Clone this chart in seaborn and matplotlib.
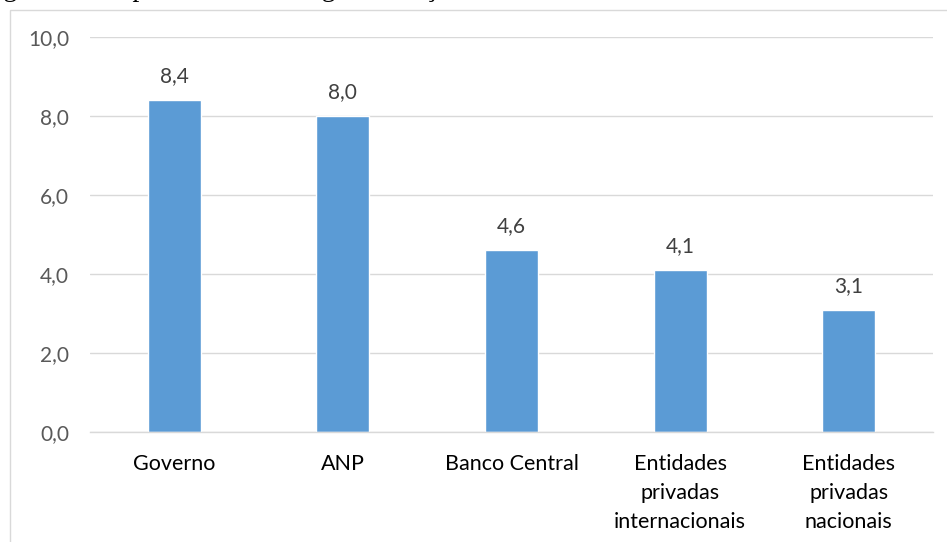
import matplotlib
matplotlib.use("Agg")
import matplotlib.pyplot as plt
from matplotlib.patches import Rectangle
import seaborn as sns
import pandas as pd

# Chart data
categories = ["Governo", "ANP", "Banco Central",
              "Entidades\nprivadas\ninternacionais", "Entidades\nprivadas\nnacionais"]
values = [8.4, 8.0, 4.6, 4.1, 3.1]
y_ticks = [0.0, 2.0, 4.0, 6.0, 8.0, 10.0]
title_text = "Figura 4 – Importância dada à governança do modelo nacionalizada de do"

df = pd.DataFrame({"categoria": categories, "valor": values})

sns.set_theme(style="white")
plt.rcParams["font.family"] = ["Lato", "DejaVu Sans"]

W, H = 947, 542
fig = plt.figure(figsize=(W / 100, H / 100), dpi=100)
ax = fig.add_axes([90 / W, 1 - 432 / H, (933 - 90) / W, (432 - 37) / H])

sns.barplot(data=df, x="categoria", y="valor", color="#5B9BD5",
            saturation=1, width=0.315, ax=ax, zorder=3)

ax.set_ylim(0, 10)
ax.set_xlim(-0.5, len(categories) - 0.5)
ax.set_yticks(y_ticks)
ax.set_yticklabels([f"{t:.1f}".replace(".", ",") for t in y_ticks],
                   color="#595959", fontsize=15)
ax.set_xticks(range(len(categories)))
ax.set_xticklabels(categories, color="#000000", fontsize=15.5, linespacing=1.55,
                   va="top")
ax.tick_params(axis="y", length=0, pad=15)
ax.tick_params(axis="x", length=0, pad=16)
ax.set_xlabel("")
ax.set_ylabel("")

ax.grid(axis="y", color="#D9D9D9", linewidth=1.0, zorder=0)
ax.grid(axis="x", visible=False)
for side in ["left", "right", "top"]:
    ax.spines[side].set_visible(False)
ax.spines["bottom"].set_color("#D9D9D9")
ax.spines["bottom"].set_linewidth(1.0)
ax.spines["bottom"].set_zorder(4)

# Value labels above the bars
for i, v in enumerate(values):
    ax.annotate(f"{v:.1f}".replace(".", ","), (i, v), xytext=(0, 10),
                textcoords="offset points", ha="center", va="bottom",
                fontsize=15, color="#404040")

# Chart frame
fig.patches.append(Rectangle((10 / W, -0.1), 1.2, (H - 10) / H + 0.1,
                             transform=fig.transFigure, fill=False,
                             edgecolor="#D9D9D9", linewidth=1.0, zorder=0))

# Caption line above the chart, mostly outside the canvas
fig.text(-20 / W, 1 + 4 / H, title_text, family="Liberation Serif",
         fontsize=20, color="#000000", ha="left", va="baseline")

fig.savefig("out.png", dpi=100)
